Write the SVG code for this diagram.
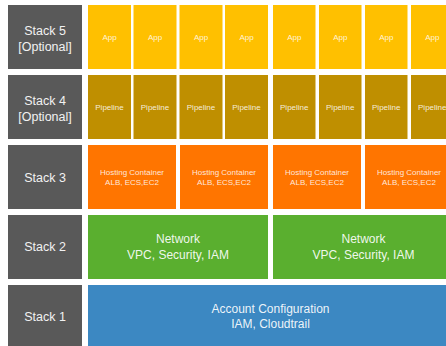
<svg xmlns="http://www.w3.org/2000/svg" width="446" height="346" viewBox="0 0 446 346">
<style>
text{font-family:"Liberation Sans",Arial,sans-serif;text-anchor:middle;}
.lbl rect{fill:#595959;}
.lbl text{fill:#F2F2F2;font-size:12.5px;}
.app rect{fill:#FFC000;}
.pipe rect{fill:#BF8F00;}
.host rect{fill:#FF7500;}
.net rect{fill:#5AAF2F;}
.acct rect{fill:#3C88C2;}
.sm{fill:#FFFFFF;fill-opacity:0.85;font-size:8px;}
.md{fill:#FFFFFF;fill-opacity:0.92;font-size:12px;}
</style>
<rect width="446" height="346" fill="#FFFFFF"/>
<g id="stack5" class="lbl"><rect x="8" y="5" width="74" height="64"/><text x="45" y="35">Stack 5</text><text x="45" y="51">[Optional]</text></g>
<g id="stack4" class="lbl"><rect x="8" y="75" width="74" height="64"/><text x="45" y="105">Stack 4</text><text x="45" y="121">[Optional]</text></g>
<g id="stack3" class="lbl"><rect x="8" y="145" width="74" height="64"/><text x="45" y="181.5">Stack 3</text></g>
<g id="stack2" class="lbl"><rect x="8" y="215" width="74" height="64"/><text x="45" y="251">Stack 2</text></g>
<g id="stack1" class="lbl"><rect x="8" y="285" width="74" height="66"/><text x="45" y="321">Stack 1</text></g>

<g id="app1" class="app"><rect x="88" y="5" width="43" height="64"/><text class="sm" x="109.5" y="40">App</text></g>
<g id="app2" class="app"><rect x="133.5" y="5" width="43" height="64"/><text class="sm" x="155" y="40">App</text></g>
<g id="app3" class="app"><rect x="179.5" y="5" width="43" height="64"/><text class="sm" x="201" y="40">App</text></g>
<g id="app4" class="app"><rect x="225" y="5" width="43" height="64"/><text class="sm" x="246.5" y="40">App</text></g>
<g id="app5" class="app"><rect x="273" y="5" width="42.5" height="64"/><text class="sm" x="294.25" y="40">App</text></g>
<g id="app6" class="app"><rect x="319" y="5" width="42.5" height="64"/><text class="sm" x="340.25" y="40">App</text></g>
<g id="app7" class="app"><rect x="365" y="5" width="42.5" height="64"/><text class="sm" x="386.25" y="40">App</text></g>
<g id="app8" class="app"><rect x="411" y="5" width="42.5" height="64"/><text class="sm" x="432.25" y="40">App</text></g>

<g id="pipe1" class="pipe"><rect x="88" y="75" width="43" height="64"/><text class="sm" x="109.5" y="110">Pipeline</text></g>
<g id="pipe2" class="pipe"><rect x="133.5" y="75" width="43" height="64"/><text class="sm" x="155" y="110">Pipeline</text></g>
<g id="pipe3" class="pipe"><rect x="179.5" y="75" width="43" height="64"/><text class="sm" x="201" y="110">Pipeline</text></g>
<g id="pipe4" class="pipe"><rect x="225" y="75" width="43" height="64"/><text class="sm" x="246.5" y="110">Pipeline</text></g>
<g id="pipe5" class="pipe"><rect x="273" y="75" width="42.5" height="64"/><text class="sm" x="294.25" y="110">Pipeline</text></g>
<g id="pipe6" class="pipe"><rect x="319" y="75" width="42.5" height="64"/><text class="sm" x="340.25" y="110">Pipeline</text></g>
<g id="pipe7" class="pipe"><rect x="365" y="75" width="42.5" height="64"/><text class="sm" x="386.25" y="110">Pipeline</text></g>
<g id="pipe8" class="pipe"><rect x="411" y="75" width="42.5" height="64"/><text class="sm" x="432.25" y="110">Pipeline</text></g>

<g id="host1" class="host"><rect x="88" y="145" width="88" height="64"/><text class="sm" x="132" y="174.5">Hosting Container</text><text class="sm" x="132" y="185">ALB, ECS,EC2</text></g>
<g id="host2" class="host"><rect x="180" y="145" width="88" height="64"/><text class="sm" x="224" y="174.5">Hosting Container</text><text class="sm" x="224" y="185">ALB, ECS,EC2</text></g>
<g id="host3" class="host"><rect x="273" y="145" width="88" height="64"/><text class="sm" x="317" y="174.5">Hosting Container</text><text class="sm" x="317" y="185">ALB, ECS,EC2</text></g>
<g id="host4" class="host"><rect x="365" y="145" width="88" height="64"/><text class="sm" x="409" y="174.5">Hosting Container</text><text class="sm" x="409" y="185">ALB, ECS,EC2</text></g>

<g id="net1" class="net"><rect x="88" y="215" width="180" height="64"/><text class="md" x="178" y="242.5">Network</text><text class="md" x="178" y="258.5">VPC, Security, IAM</text></g>
<g id="net2" class="net"><rect x="273" y="215" width="181" height="64"/><text class="md" x="363.5" y="242.5">Network</text><text class="md" x="363.5" y="258.5">VPC, Security, IAM</text></g>

<g id="acct" class="acct"><rect x="88" y="285" width="366" height="66"/><text class="md" x="270.5" y="312.5">Account Configuration</text><text class="md" x="270.5" y="328">IAM, Cloudtrail</text></g>
<g id="connectors"></g>
</svg>
